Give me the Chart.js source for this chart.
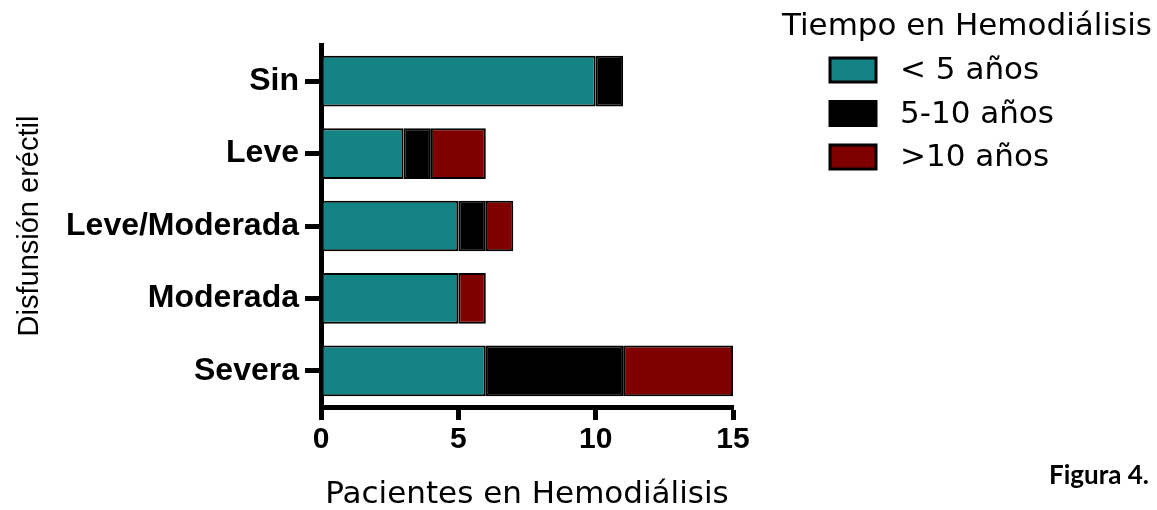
<!DOCTYPE html>
<html>
<head>
<meta charset="utf-8">
<script src="https://cdn.jsdelivr.net/npm/chart.js@4"></script>
<style>
  html, body { margin: 0; padding: 0; background: #fff; }
  #wrap { width: 1157px; height: 510px; position: relative; }
</style>
</head>
<body>
<div id="wrap"><canvas id="chart" width="1157" height="510"></canvas></div>
<script>
// Data
const categories = ['Sin', 'Leve', 'Leve/Moderada', 'Moderada', 'Severa'];
const menos5 = [10, 3, 5, 5, 6];
const entre5y10 = [1, 1, 1, 0, 5];
const mas10 = [0, 2, 1, 1, 4];
const seriesNames = ['< 5 años', '5-10 años', '>10 años'];
const xTicks = [0, 5, 10, 15];

const teal = '#138383';
const darkRed = '#800000';

function makeSet(label, data, color) {
    return {
        label: label,
        data: data,
        backgroundColor: color,
        borderColor: '#000',
        borderWidth: 2,
        borderSkipped: false,
        barPercentage: 0.7,
        categoryPercentage: 1,
        clip: false
    };
}

// Legend drawn on the canvas to the right of the plot
const sideLegend = {
    id: 'sideLegend',
    afterDraw(chart) {
        const ctx = chart.ctx;
        ctx.save();
        ctx.fillStyle = '#000';
        ctx.textBaseline = 'middle';
        ctx.textAlign = 'left';
        ctx.font = '31px "DejaVu Sans"';
        ctx.fillText('Tiempo en Hemodiálisis', 782, 27);
        chart.data.datasets.forEach((ds, i) => {
            const y = 58 + i * 43.5;
            ctx.fillStyle = ds.backgroundColor;
            ctx.fillRect(830, y, 46, 24);
            ctx.lineWidth = 3;
            ctx.strokeStyle = '#000';
            ctx.strokeRect(830, y, 46, 24);
            ctx.fillStyle = '#000';
            ctx.font = '31px "DejaVu Sans"';
            ctx.fillText(ds.label, 900, y + 13);
        });
        ctx.font = 'bold 26px Lato';
        ctx.fillText('Figura 4.', 1049, 476);
        ctx.restore();
    }
};

const config = {
    type: 'bar',
    data: {
        labels: categories,
        datasets: [
            makeSet(seriesNames[0], menos5, teal),
            makeSet(seriesNames[1], entre5y10, '#000'),
            makeSet(seriesNames[2], mas10, darkRed)
        ]
    },
    options: {
        indexAxis: 'y',
        responsive: false,
        animation: false,
        layout: { padding: { top: 45, right: 424, left: 0, bottom: 0 } },
        plugins: {
            legend: { display: false },
            tooltip: { enabled: false }
        },
        scales: {
            x: {
                stacked: true,
                min: 0,
                max: 15,
                afterBuildTicks(scale) {
                    scale.ticks = xTicks.map(v => ({ value: v }));
                },
                afterFit(scale) { scale.height = 103; },
                border: { display: true, width: 5, color: '#000' },
                grid: {
                    drawOnChartArea: false,
                    drawTicks: true,
                    tickLength: 13,
                    tickWidth: 5,
                    tickColor: '#000'
                },
                ticks: {
                    color: '#000',
                    padding: 2,
                    font: { family: 'Liberation Sans', size: 30, weight: 'bold' }
                },
                title: {
                    display: true,
                    text: 'Pacientes en Hemodiálisis',
                    color: '#000',
                    padding: 0,
                    font: { family: 'DejaVu Sans', size: 31, lineHeight: 1 }
                }
            },
            y: {
                stacked: true,
                afterFit(scale) { scale.width = 321; },
                border: { display: true, width: 5, color: '#000' },
                grid: {
                    offset: false,
                    drawOnChartArea: false,
                    drawTicks: true,
                    tickLength: 16,
                    tickWidth: 5,
                    tickColor: '#000'
                },
                ticks: {
                    color: '#000',
                    padding: 6,
                    font: { family: 'Liberation Sans', size: 32, weight: 'bold' }
                },
                title: {
                    display: true,
                    text: 'Disfunsión eréctil',
                    color: '#000',
                    padding: { top: 15, bottom: 0 },
                    font: { family: 'Liberation Sans', size: 29, lineHeight: 1 }
                }
            }
        }
    },
    plugins: [sideLegend]
};

const chart = new Chart(document.getElementById('chart'), config);
</script>
</body>
</html>
